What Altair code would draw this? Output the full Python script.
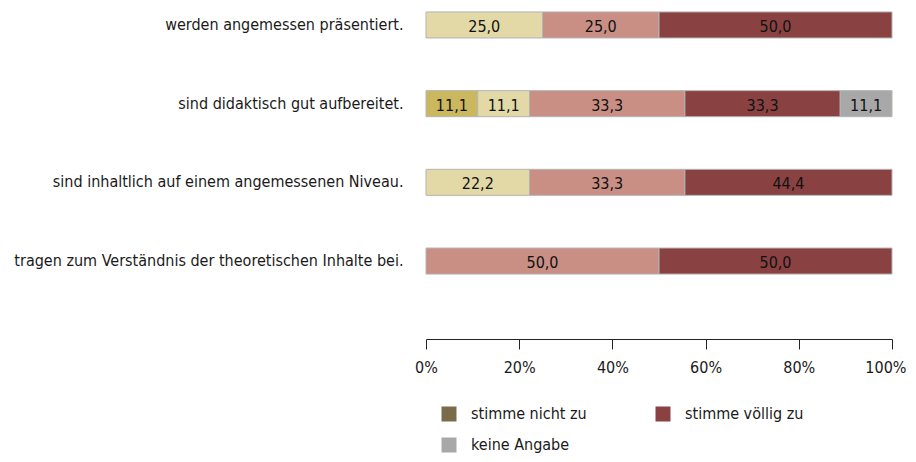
import altair as alt
import pandas as pd

# ---- data -------------------------------------------------------------
items = [
    "werden angemessen präsentiert.",
    "sind didaktisch gut aufbereitet.",
    "sind inhaltlich auf einem angemessenen Niveau.",
    "tragen zum Verständnis der theoretischen Inhalte bei.",
]
answers = [
    "stimme nicht zu",
    "stimme eher nicht zu",
    "teils/teils",
    "stimme eher zu",
    "stimme völlig zu",
    "keine Angabe",
]
colors = ["#7a6b4a", "#cbb85e", "#e2d9a7", "#c98f85", "#8a4141", "#a8a8a8"]

# values per answer category (one list per category, item order as above)
v_nicht = [0.0, 0.0, 0.0, 0.0]
v_eher_nicht = [0.0, 11.1, 0.0, 0.0]
v_teils = [25.0, 11.1, 22.2, 0.0]
v_eher = [25.0, 33.3, 33.3, 50.0]
v_voellig = [50.0, 33.3, 44.4, 50.0]
v_keine = [0.0, 11.1, 0.0, 0.0]

legend_values = ["stimme nicht zu", "keine Angabe", "stimme völlig zu"]
x_ticks = [0, 0.2, 0.4, 0.6, 0.8, 1.0]

series = [v_nicht, v_eher_nicht, v_teils, v_eher, v_voellig, v_keine]
rows = []
for ai, (ans, vals) in enumerate(zip(answers, series)):
    for item, v in zip(items, vals):
        if v > 0:
            rows.append({"item": item, "answer": ans, "order": ai, "value": v,
                         "label": f"{v:.1f}".replace(".", ",")})
df = pd.DataFrame(rows)

FONT = "Liberation Sans Narrow, DejaVu Sans Condensed, sans-serif"

base = alt.Chart(df).transform_stack(
    stack="value", groupby=["item"], sort=[alt.SortField("order")],
    as_=["x0", "x1"], offset="normalize"
).transform_calculate(mid="(datum.x0 + datum.x1) / 2")

yenc = alt.Y("item:N", sort=items, title=None,
             scale=alt.Scale(paddingInner=0.669, paddingOuter=0.05),
             axis=alt.Axis(domain=False, ticks=False, labelPadding=23,
                           labelFont=FONT, labelFontSize=16, labelColor="#1a1a1a",
                           labelLimit=500))

bars = base.mark_bar(stroke="#b4b4b4", strokeWidth=1).encode(
    x=alt.X("x0:Q", scale=alt.Scale(domain=[0, 1]), title=None,
            axis=alt.Axis(values=x_ticks, format=".0%", grid=False, offset=61,
                          tickSize=10, domainColor="#222", tickColor="#222",
                          labelFont=FONT, labelFontSize=16, labelColor="#1a1a1a",
                          labelPadding=10, labelFlush=False,
                          labelAlign={"condition": {"test": "datum.value == 1", "value": "right"},
                                      "value": "center"},
                          labelOffset={"condition": {"test": "datum.value == 1", "value": 14},
                                       "value": 0})),
    x2="x1:Q",
    y=yenc,
    color=alt.Color("answer:N", scale=alt.Scale(domain=answers, range=colors),
                    legend=alt.Legend(values=legend_values, title=None, orient="none",
                                      legendX=15, legendY=398, columns=2,
                                      columnPadding=68, rowPadding=15,
                                      symbolType="square", symbolSize=225,
                                      symbolStrokeWidth=0, labelOffset=14,
                                      labelFont=FONT, labelFontSize=16,
                                      labelColor="#1a1a1a")),
)

text = base.mark_text(font=FONT, fontSize=16, color="#111", dy=2).encode(
    x=alt.X("mid:Q"),
    y=alt.Y("item:N", sort=items),
    text="label:N",
)

chart = (bars + text).properties(
    width=466, height=270,
    padding={"left": 418, "top": 0, "right": 16, "bottom": 176},
    autosize=alt.AutoSizeParams(type="none"),
).configure_view(stroke=None)

chart.save("out.html", embed_options={"renderer": "svg", "actions": False})
